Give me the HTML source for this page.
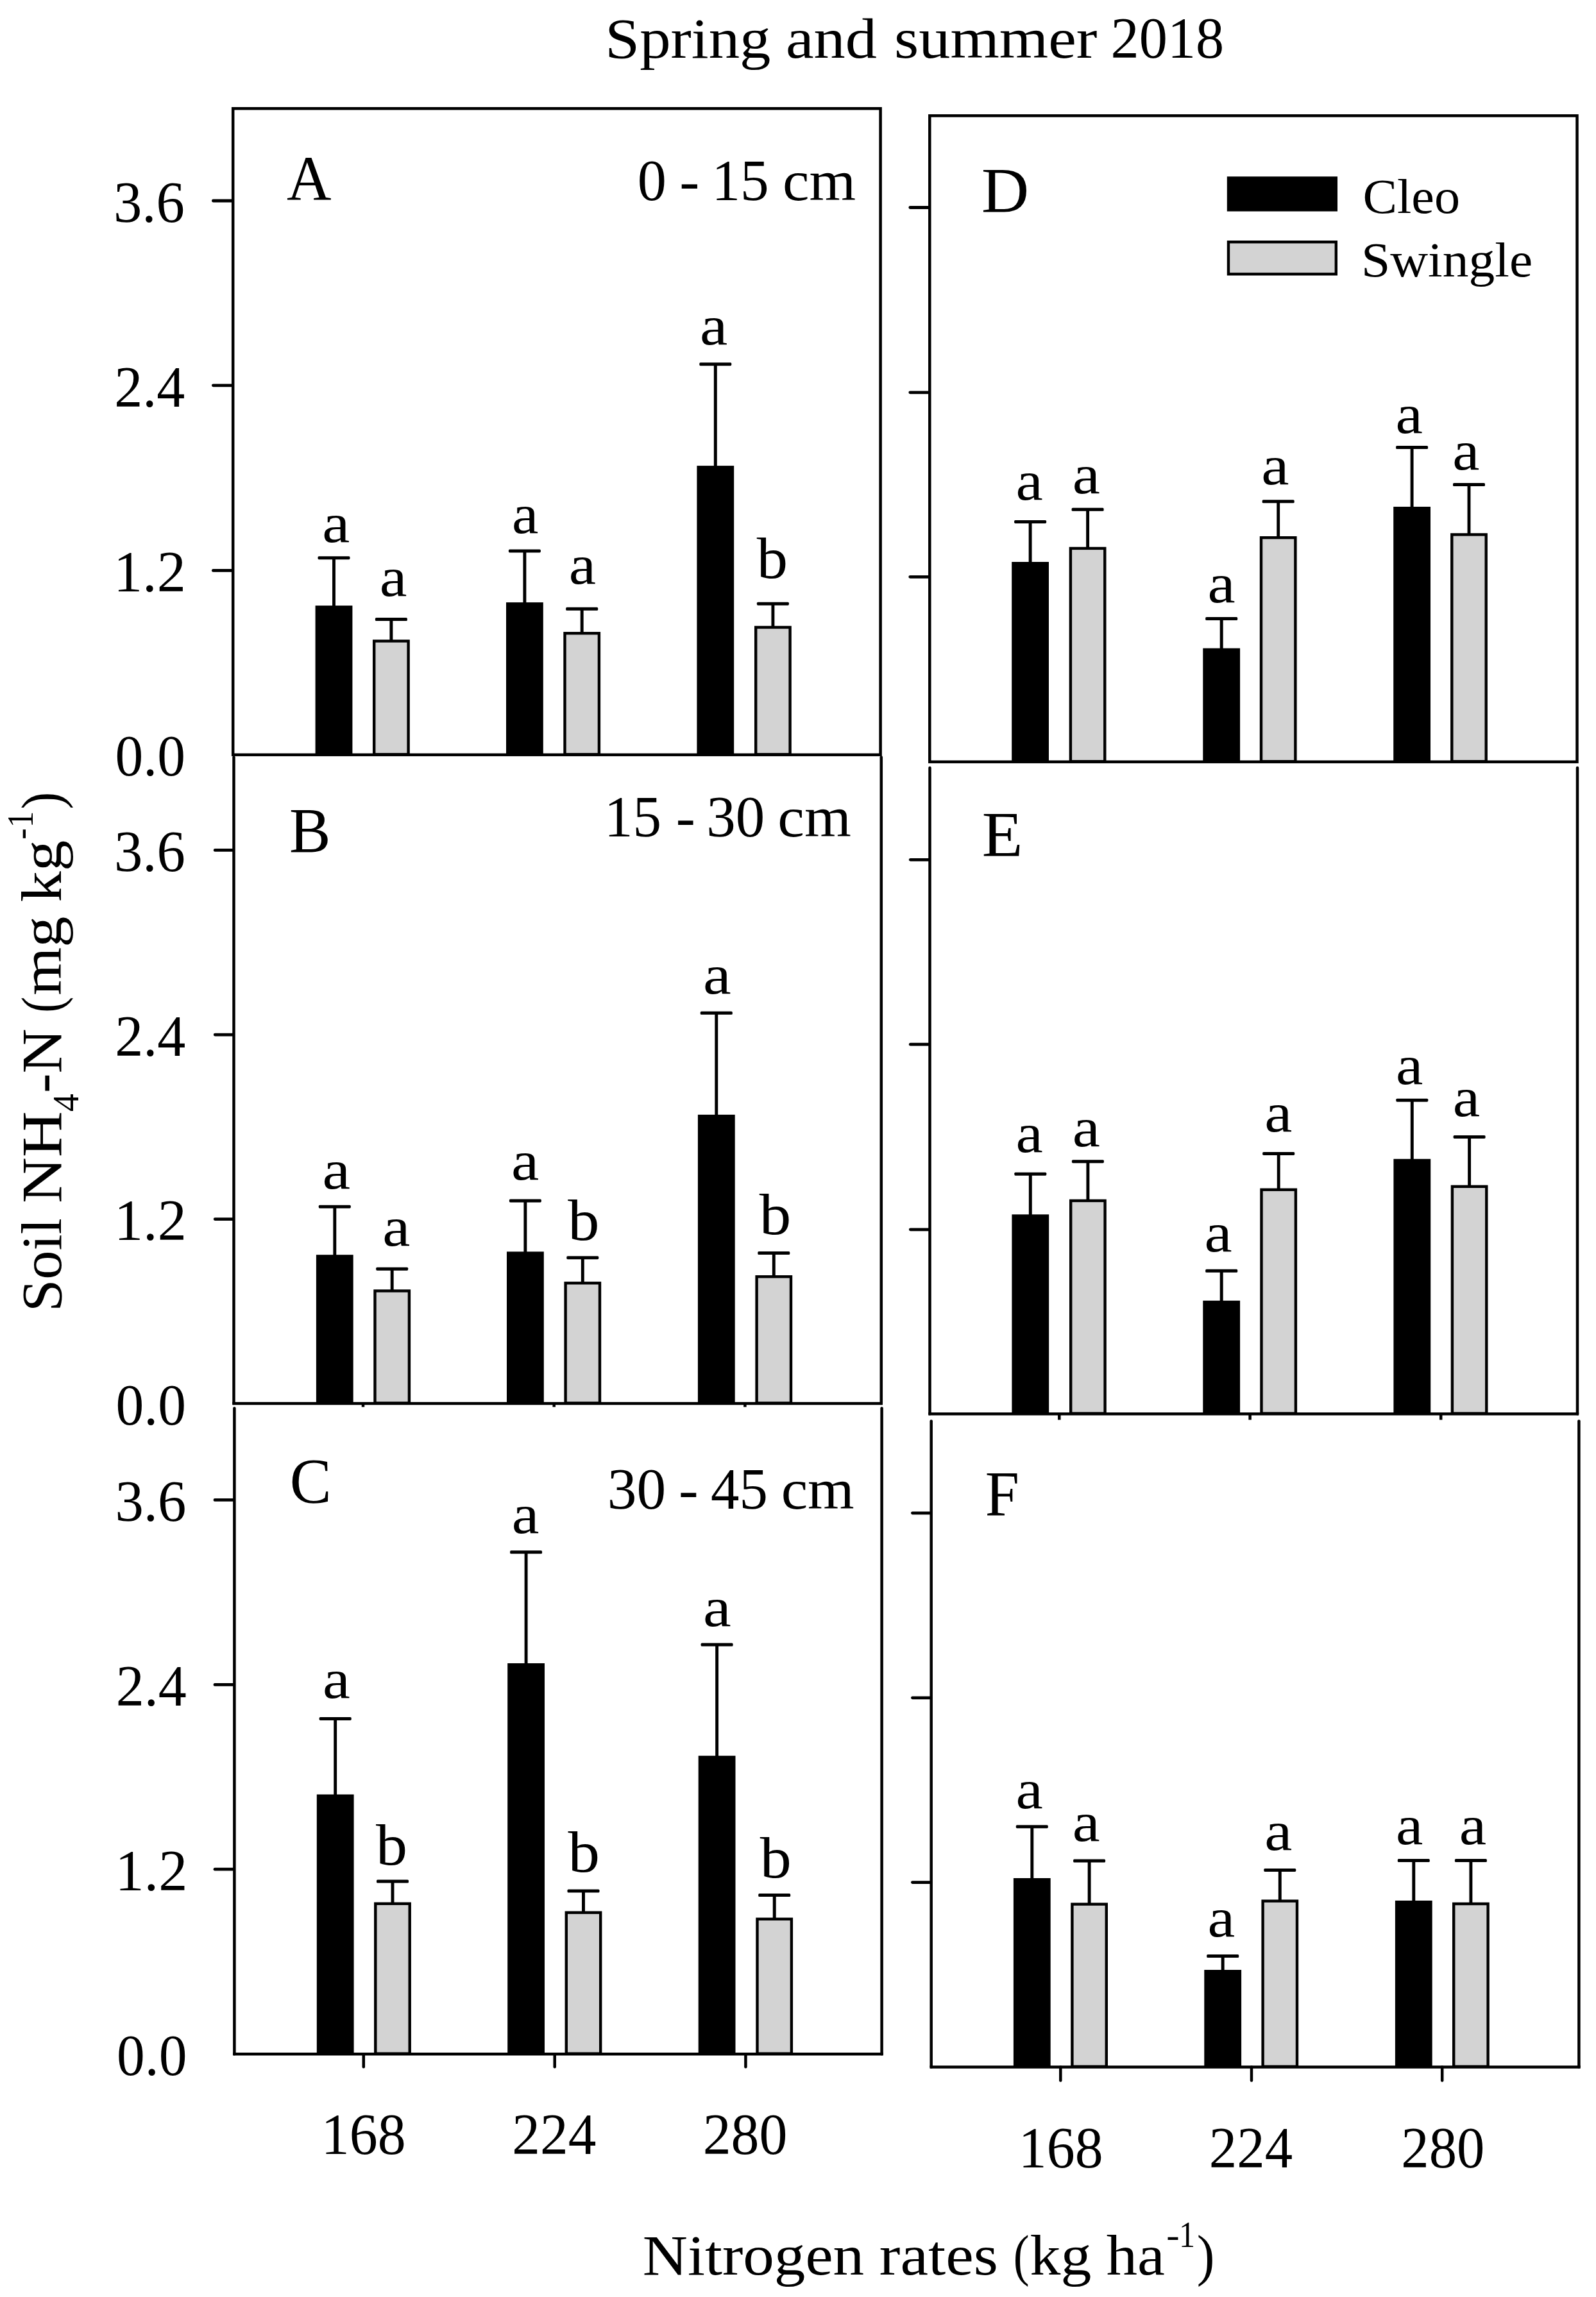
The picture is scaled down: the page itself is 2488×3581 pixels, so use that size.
<!DOCTYPE html>
<html lang="en"><head><meta charset="utf-8"><title>Spring and summer 2018 - Soil NH4-N</title>
<style>
html,body{margin:0;padding:0;background:#fff;}
svg{display:block;}
text{font-family:"Liberation Serif", serif;fill:#000;}
</style></head>
<body>
<svg width="2488" height="3581" viewBox="0 0 2488 3581">
<rect width="2488" height="3581" fill="#fff"/>
<g id="plot">
<g id="panel-A">
<line x1="520.5" y1="869.7" x2="520.5" y2="947.1" stroke="#000" stroke-width="4.9" stroke-linecap="butt"/>
<rect x="495.5" y="867.2" width="50" height="5" rx="1.6" fill="#000"/>
<rect x="491.6" y="944.1" width="57.8" height="232.6" fill="#000"/>
<line x1="609.9" y1="965.6" x2="609.9" y2="1000.2" stroke="#000" stroke-width="4.9" stroke-linecap="butt"/>
<rect x="584.9" y="963.1" width="50" height="5" rx="1.6" fill="#000"/>
<rect x="583.2" y="999.4" width="53.4" height="176.7" fill="#d3d3d3" stroke="#000" stroke-width="4.4"/>
<line x1="817.9" y1="858.9" x2="817.9" y2="942.1" stroke="#000" stroke-width="4.9" stroke-linecap="butt"/>
<rect x="792.9" y="856.4" width="50" height="5" rx="1.6" fill="#000"/>
<rect x="789.0" y="939.1" width="57.8" height="237.6" fill="#000"/>
<line x1="907.2" y1="949.3" x2="907.2" y2="988.1" stroke="#000" stroke-width="4.9" stroke-linecap="butt"/>
<rect x="882.2" y="946.8" width="50" height="5" rx="1.6" fill="#000"/>
<rect x="880.5" y="987.3" width="53.4" height="188.8" fill="#d3d3d3" stroke="#000" stroke-width="4.4"/>
<line x1="1115.3" y1="567.7" x2="1115.3" y2="729.1" stroke="#000" stroke-width="4.9" stroke-linecap="butt"/>
<rect x="1090.3" y="565.2" width="50" height="5" rx="1.6" fill="#000"/>
<rect x="1086.4" y="726.1" width="57.8" height="450.6" fill="#000"/>
<line x1="1204.9" y1="941.2" x2="1204.9" y2="978.8" stroke="#000" stroke-width="4.9" stroke-linecap="butt"/>
<rect x="1179.9" y="938.7" width="50" height="5" rx="1.6" fill="#000"/>
<rect x="1178.2" y="978.0" width="53.4" height="198.1" fill="#d3d3d3" stroke="#000" stroke-width="4.4"/>
<rect x="363.2" y="169.2" width="1009.4" height="1007.5" fill="none" stroke="#000" stroke-width="4.5"/>
<line x1="332.4" y1="313.0" x2="362.2" y2="313.0" stroke="#000" stroke-width="4.8" stroke-linecap="round"/>
<line x1="332.4" y1="600.8" x2="362.2" y2="600.8" stroke="#000" stroke-width="4.8" stroke-linecap="round"/>
<line x1="332.4" y1="889.4" x2="362.2" y2="889.4" stroke="#000" stroke-width="4.8" stroke-linecap="round"/>
</g>
<g id="panel-B">
<line x1="521.8" y1="1881.2" x2="521.8" y2="1959.2" stroke="#000" stroke-width="4.9" stroke-linecap="butt"/>
<rect x="496.8" y="1878.7" width="50" height="5" rx="1.6" fill="#000"/>
<rect x="492.9" y="1956.2" width="57.8" height="231.8" fill="#000"/>
<line x1="611.2" y1="1978.2" x2="611.2" y2="2013.3" stroke="#000" stroke-width="4.9" stroke-linecap="butt"/>
<rect x="586.2" y="1975.7" width="50" height="5" rx="1.6" fill="#000"/>
<rect x="584.5" y="2012.5" width="53.4" height="174.9" fill="#d3d3d3" stroke="#000" stroke-width="4.4"/>
<line x1="818.9" y1="1871.9" x2="818.9" y2="1954.3" stroke="#000" stroke-width="4.9" stroke-linecap="butt"/>
<rect x="793.9" y="1869.4" width="50" height="5" rx="1.6" fill="#000"/>
<rect x="790.0" y="1951.3" width="57.8" height="236.7" fill="#000"/>
<line x1="908.3" y1="1960.7" x2="908.3" y2="2001.1" stroke="#000" stroke-width="4.9" stroke-linecap="butt"/>
<rect x="883.3" y="1958.2" width="50" height="5" rx="1.6" fill="#000"/>
<rect x="881.6" y="2000.3" width="53.4" height="187.1" fill="#d3d3d3" stroke="#000" stroke-width="4.4"/>
<line x1="1116.8" y1="1579.3" x2="1116.8" y2="1740.8" stroke="#000" stroke-width="4.9" stroke-linecap="butt"/>
<rect x="1091.8" y="1576.8" width="50" height="5" rx="1.6" fill="#000"/>
<rect x="1087.9" y="1737.8" width="57.8" height="450.2" fill="#000"/>
<line x1="1206.3" y1="1953.5" x2="1206.3" y2="1991.1" stroke="#000" stroke-width="4.9" stroke-linecap="butt"/>
<rect x="1181.3" y="1951.0" width="50" height="5" rx="1.6" fill="#000"/>
<rect x="1179.6" y="1990.3" width="53.4" height="197.1" fill="#d3d3d3" stroke="#000" stroke-width="4.4"/>
<line x1="364.5" y1="1180.5" x2="364.5" y2="2188.0" stroke="#000" stroke-width="4.5" stroke-linecap="round"/>
<line x1="1373.8" y1="1180.5" x2="1373.8" y2="2188.0" stroke="#000" stroke-width="4.5" stroke-linecap="round"/>
<line x1="362.2" y1="2188.0" x2="1376.0" y2="2188.0" stroke="#000" stroke-width="4.5" stroke-linecap="butt"/>
<line x1="335.2" y1="1325.4" x2="363.5" y2="1325.4" stroke="#000" stroke-width="4.8" stroke-linecap="round"/>
<line x1="335.2" y1="1613.1" x2="363.5" y2="1613.1" stroke="#000" stroke-width="4.8" stroke-linecap="round"/>
<line x1="335.2" y1="1900.6" x2="363.5" y2="1900.6" stroke="#000" stroke-width="4.8" stroke-linecap="round"/>
</g>
<g id="panel-C">
<line x1="522.7" y1="2679.4" x2="522.7" y2="2800.5" stroke="#000" stroke-width="4.9" stroke-linecap="butt"/>
<rect x="497.7" y="2676.9" width="50" height="5" rx="1.6" fill="#000"/>
<rect x="493.8" y="2797.5" width="57.8" height="404.7" fill="#000"/>
<line x1="612.0" y1="2933.0" x2="612.0" y2="2968.6" stroke="#000" stroke-width="4.9" stroke-linecap="butt"/>
<rect x="587.0" y="2930.5" width="50" height="5" rx="1.6" fill="#000"/>
<rect x="585.3" y="2967.8" width="53.4" height="233.8" fill="#d3d3d3" stroke="#000" stroke-width="4.4"/>
<line x1="820.1" y1="2419.8" x2="820.1" y2="2596.0" stroke="#000" stroke-width="4.9" stroke-linecap="butt"/>
<rect x="795.1" y="2417.3" width="50" height="5" rx="1.6" fill="#000"/>
<rect x="791.2" y="2593.0" width="57.8" height="609.2" fill="#000"/>
<line x1="909.5" y1="2948.1" x2="909.5" y2="2982.5" stroke="#000" stroke-width="4.9" stroke-linecap="butt"/>
<rect x="884.5" y="2945.6" width="50" height="5" rx="1.6" fill="#000"/>
<rect x="882.8" y="2981.7" width="53.4" height="219.9" fill="#d3d3d3" stroke="#000" stroke-width="4.4"/>
<line x1="1117.6" y1="2564.1" x2="1117.6" y2="2740.2" stroke="#000" stroke-width="4.9" stroke-linecap="butt"/>
<rect x="1092.6" y="2561.6" width="50" height="5" rx="1.6" fill="#000"/>
<rect x="1088.7" y="2737.2" width="57.8" height="465.0" fill="#000"/>
<line x1="1207.2" y1="2954.6" x2="1207.2" y2="2992.6" stroke="#000" stroke-width="4.9" stroke-linecap="butt"/>
<rect x="1182.2" y="2952.1" width="50" height="5" rx="1.6" fill="#000"/>
<rect x="1180.5" y="2991.8" width="53.4" height="209.8" fill="#d3d3d3" stroke="#000" stroke-width="4.4"/>
<line x1="365.4" y1="2195.5" x2="365.4" y2="3202.2" stroke="#000" stroke-width="4.5" stroke-linecap="round"/>
<line x1="1374.6" y1="2195.5" x2="1374.6" y2="3202.2" stroke="#000" stroke-width="4.5" stroke-linecap="round"/>
<line x1="363.1" y1="3202.2" x2="1376.8" y2="3202.2" stroke="#000" stroke-width="4.5" stroke-linecap="butt"/>
<line x1="335.0" y1="2338.4" x2="364.4" y2="2338.4" stroke="#000" stroke-width="4.8" stroke-linecap="round"/>
<line x1="335.0" y1="2626.4" x2="364.4" y2="2626.4" stroke="#000" stroke-width="4.8" stroke-linecap="round"/>
<line x1="335.0" y1="2914.2" x2="364.4" y2="2914.2" stroke="#000" stroke-width="4.8" stroke-linecap="round"/>
</g>
<g id="panel-D">
<line x1="1606.1" y1="813.4" x2="1606.1" y2="879.0" stroke="#000" stroke-width="4.9" stroke-linecap="butt"/>
<rect x="1581.1" y="810.9" width="50" height="5" rx="1.6" fill="#000"/>
<rect x="1577.2" y="876.0" width="57.8" height="311.7" fill="#000"/>
<line x1="1695.6" y1="794.3" x2="1695.6" y2="855.7" stroke="#000" stroke-width="4.9" stroke-linecap="butt"/>
<rect x="1670.6" y="791.8" width="50" height="5" rx="1.6" fill="#000"/>
<rect x="1668.9" y="854.9" width="53.4" height="332.2" fill="#d3d3d3" stroke="#000" stroke-width="4.4"/>
<line x1="1904.2" y1="964.5" x2="1904.2" y2="1013.6" stroke="#000" stroke-width="4.9" stroke-linecap="butt"/>
<rect x="1879.2" y="962.0" width="50" height="5" rx="1.6" fill="#000"/>
<rect x="1875.3" y="1010.6" width="57.8" height="177.1" fill="#000"/>
<line x1="1992.7" y1="781.8" x2="1992.7" y2="839.0" stroke="#000" stroke-width="4.9" stroke-linecap="butt"/>
<rect x="1967.7" y="779.3" width="50" height="5" rx="1.6" fill="#000"/>
<rect x="1966.0" y="838.2" width="53.4" height="348.9" fill="#d3d3d3" stroke="#000" stroke-width="4.4"/>
<line x1="2201.1" y1="697.6" x2="2201.1" y2="793.0" stroke="#000" stroke-width="4.9" stroke-linecap="butt"/>
<rect x="2176.1" y="695.1" width="50" height="5" rx="1.6" fill="#000"/>
<rect x="2172.2" y="790.0" width="57.8" height="397.7" fill="#000"/>
<line x1="2290.0" y1="755.6" x2="2290.0" y2="834.2" stroke="#000" stroke-width="4.9" stroke-linecap="butt"/>
<rect x="2265.0" y="753.1" width="50" height="5" rx="1.6" fill="#000"/>
<rect x="2263.3" y="833.4" width="53.4" height="353.7" fill="#d3d3d3" stroke="#000" stroke-width="4.4"/>
<rect x="1449.3" y="180.4" width="1009.2" height="1007.3" fill="none" stroke="#000" stroke-width="4.5"/>
<line x1="1418.8" y1="323.5" x2="1448.3" y2="323.5" stroke="#000" stroke-width="4.8" stroke-linecap="round"/>
<line x1="1418.8" y1="611.8" x2="1448.3" y2="611.8" stroke="#000" stroke-width="4.8" stroke-linecap="round"/>
<line x1="1418.8" y1="899.3" x2="1448.3" y2="899.3" stroke="#000" stroke-width="4.8" stroke-linecap="round"/>
</g>
<g id="panel-E">
<line x1="1606.3" y1="1830.2" x2="1606.3" y2="1896.3" stroke="#000" stroke-width="4.9" stroke-linecap="butt"/>
<rect x="1581.3" y="1827.7" width="50" height="5" rx="1.6" fill="#000"/>
<rect x="1577.4" y="1893.3" width="57.8" height="310.9" fill="#000"/>
<line x1="1695.9" y1="1810.7" x2="1695.9" y2="1872.7" stroke="#000" stroke-width="4.9" stroke-linecap="butt"/>
<rect x="1670.9" y="1808.2" width="50" height="5" rx="1.6" fill="#000"/>
<rect x="1669.2" y="1871.9" width="53.4" height="331.7" fill="#d3d3d3" stroke="#000" stroke-width="4.4"/>
<line x1="1904.2" y1="1981.3" x2="1904.2" y2="2030.7" stroke="#000" stroke-width="4.9" stroke-linecap="butt"/>
<rect x="1879.2" y="1978.8" width="50" height="5" rx="1.6" fill="#000"/>
<rect x="1875.3" y="2027.7" width="57.8" height="176.5" fill="#000"/>
<line x1="1993.2" y1="1798.4" x2="1993.2" y2="1855.5" stroke="#000" stroke-width="4.9" stroke-linecap="butt"/>
<rect x="1968.2" y="1795.9" width="50" height="5" rx="1.6" fill="#000"/>
<rect x="1966.5" y="1854.7" width="53.4" height="348.9" fill="#d3d3d3" stroke="#000" stroke-width="4.4"/>
<line x1="2201.3" y1="1715.2" x2="2201.3" y2="1809.8" stroke="#000" stroke-width="4.9" stroke-linecap="butt"/>
<rect x="2176.3" y="1712.7" width="50" height="5" rx="1.6" fill="#000"/>
<rect x="2172.4" y="1806.8" width="57.8" height="397.4" fill="#000"/>
<line x1="2290.6" y1="1772.4" x2="2290.6" y2="1850.6" stroke="#000" stroke-width="4.9" stroke-linecap="butt"/>
<rect x="2265.6" y="1769.9" width="50" height="5" rx="1.6" fill="#000"/>
<rect x="2263.9" y="1849.8" width="53.4" height="353.8" fill="#d3d3d3" stroke="#000" stroke-width="4.4"/>
<line x1="1449.5" y1="1197.0" x2="1449.5" y2="2204.2" stroke="#000" stroke-width="4.5" stroke-linecap="round"/>
<line x1="2459.0" y1="1197.0" x2="2459.0" y2="2204.2" stroke="#000" stroke-width="4.5" stroke-linecap="round"/>
<line x1="1447.2" y1="2204.2" x2="2461.2" y2="2204.2" stroke="#000" stroke-width="4.5" stroke-linecap="butt"/>
<line x1="1419.3" y1="1340.3" x2="1448.5" y2="1340.3" stroke="#000" stroke-width="4.8" stroke-linecap="round"/>
<line x1="1419.3" y1="1628.2" x2="1448.5" y2="1628.2" stroke="#000" stroke-width="4.8" stroke-linecap="round"/>
<line x1="1419.3" y1="1916.8" x2="1448.5" y2="1916.8" stroke="#000" stroke-width="4.8" stroke-linecap="round"/>
</g>
<g id="panel-F">
<line x1="1608.8" y1="2847.7" x2="1608.8" y2="2931.0" stroke="#000" stroke-width="4.9" stroke-linecap="butt"/>
<rect x="1583.8" y="2845.2" width="50" height="5" rx="1.6" fill="#000"/>
<rect x="1579.9" y="2928.0" width="57.8" height="294.4" fill="#000"/>
<line x1="1698.1" y1="2901.0" x2="1698.1" y2="2969.4" stroke="#000" stroke-width="4.9" stroke-linecap="butt"/>
<rect x="1673.1" y="2898.5" width="50" height="5" rx="1.6" fill="#000"/>
<rect x="1671.4" y="2968.6" width="53.4" height="253.2" fill="#d3d3d3" stroke="#000" stroke-width="4.4"/>
<line x1="1906.2" y1="3049.5" x2="1906.2" y2="3074.0" stroke="#000" stroke-width="4.9" stroke-linecap="butt"/>
<rect x="1881.2" y="3047.0" width="50" height="5" rx="1.6" fill="#000"/>
<rect x="1877.3" y="3071.0" width="57.8" height="151.4" fill="#000"/>
<line x1="1995.3" y1="2915.4" x2="1995.3" y2="2964.5" stroke="#000" stroke-width="4.9" stroke-linecap="butt"/>
<rect x="1970.3" y="2912.9" width="50" height="5" rx="1.6" fill="#000"/>
<rect x="1968.6" y="2963.7" width="53.4" height="258.1" fill="#d3d3d3" stroke="#000" stroke-width="4.4"/>
<line x1="2203.8" y1="2900.6" x2="2203.8" y2="2966.0" stroke="#000" stroke-width="4.9" stroke-linecap="butt"/>
<rect x="2178.8" y="2898.1" width="50" height="5" rx="1.6" fill="#000"/>
<rect x="2174.9" y="2963.0" width="57.8" height="259.4" fill="#000"/>
<line x1="2292.9" y1="2900.6" x2="2292.9" y2="2968.8" stroke="#000" stroke-width="4.9" stroke-linecap="butt"/>
<rect x="2267.9" y="2898.1" width="50" height="5" rx="1.6" fill="#000"/>
<rect x="2266.2" y="2968.0" width="53.4" height="253.8" fill="#d3d3d3" stroke="#000" stroke-width="4.4"/>
<line x1="1451.7" y1="2215.5" x2="1451.7" y2="3222.4" stroke="#000" stroke-width="4.5" stroke-linecap="round"/>
<line x1="2461.4" y1="2215.5" x2="2461.4" y2="3222.4" stroke="#000" stroke-width="4.5" stroke-linecap="round"/>
<line x1="1449.5" y1="3222.4" x2="2463.7" y2="3222.4" stroke="#000" stroke-width="4.5" stroke-linecap="butt"/>
<line x1="1422.4" y1="2358.8" x2="1450.7" y2="2358.8" stroke="#000" stroke-width="4.8" stroke-linecap="round"/>
<line x1="1422.4" y1="2646.8" x2="1450.7" y2="2646.8" stroke="#000" stroke-width="4.8" stroke-linecap="round"/>
<line x1="1422.4" y1="2934.6" x2="1450.7" y2="2934.6" stroke="#000" stroke-width="4.8" stroke-linecap="round"/>
</g>
<g id="x-ticks">
<line x1="566.8" y1="3202.2" x2="566.8" y2="3222.2" stroke="#000" stroke-width="4.5" stroke-linecap="round"/>
<line x1="864.7" y1="3202.2" x2="864.7" y2="3222.2" stroke="#000" stroke-width="4.5" stroke-linecap="round"/>
<line x1="1162.4" y1="3202.2" x2="1162.4" y2="3222.2" stroke="#000" stroke-width="4.5" stroke-linecap="round"/>
<line x1="1653.3" y1="3222.4" x2="1653.3" y2="3243.6" stroke="#000" stroke-width="4.5" stroke-linecap="round"/>
<line x1="1951.0" y1="3222.4" x2="1951.0" y2="3243.6" stroke="#000" stroke-width="4.5" stroke-linecap="round"/>
<line x1="2248.2" y1="3222.4" x2="2248.2" y2="3243.6" stroke="#000" stroke-width="4.5" stroke-linecap="round"/>
<line x1="566.0" y1="2188.0" x2="566.0" y2="2193.5" stroke="#000" stroke-width="4.5" stroke-linecap="butt"/>
<line x1="863.7" y1="2188.0" x2="863.7" y2="2193.5" stroke="#000" stroke-width="4.5" stroke-linecap="butt"/>
<line x1="1161.4" y1="2188.0" x2="1161.4" y2="2193.5" stroke="#000" stroke-width="4.5" stroke-linecap="butt"/>
<line x1="1651.3" y1="2204.0" x2="1651.3" y2="2213.5" stroke="#000" stroke-width="4.5" stroke-linecap="butt"/>
<line x1="1948.6" y1="2204.0" x2="1948.6" y2="2213.5" stroke="#000" stroke-width="4.5" stroke-linecap="butt"/>
<line x1="2246.2" y1="2204.0" x2="2246.2" y2="2213.5" stroke="#000" stroke-width="4.5" stroke-linecap="butt"/>
</g>
<g id="legend-swatches">
<rect x="1912.8" y="275.2" width="172.2" height="54.3" fill="#000"/>
<rect x="1915.0" y="377.2" width="167.8" height="50.1" fill="#d3d3d3" stroke="#000" stroke-width="4.4"/>
</g>
</g>
<g id="labels">
<text font-size="89"><tspan x="943.35" y="90.20" textLength="258.16" lengthAdjust="spacingAndGlyphs">Spring</tspan> <tspan x="1224.92" y="90.20" textLength="142.08" lengthAdjust="spacingAndGlyphs">and</tspan> <tspan x="1394.13" y="90.20" textLength="316.45" lengthAdjust="spacingAndGlyphs">summer</tspan> <tspan x="1731.54" y="90.20" font-size="90" textLength="176.72" lengthAdjust="spacingAndGlyphs">2018</tspan></text>
<text font-size="91"><tspan x="177.04" y="345.80" textLength="110.84" lengthAdjust="spacingAndGlyphs">3.6</tspan></text>
<text font-size="91"><tspan x="178.25" y="633.60" textLength="110.13" lengthAdjust="spacingAndGlyphs">2.4</tspan></text>
<text font-size="91"><tspan x="176.94" y="922.20" textLength="112.89" lengthAdjust="spacingAndGlyphs">1.2</tspan></text>
<text font-size="91"><tspan x="179.46" y="1209.20" textLength="109.47" lengthAdjust="spacingAndGlyphs">0.0</tspan></text>
<text font-size="91"><tspan x="178.04" y="1358.20" textLength="110.84" lengthAdjust="spacingAndGlyphs">3.6</tspan></text>
<text font-size="91"><tspan x="179.25" y="1645.90" textLength="110.13" lengthAdjust="spacingAndGlyphs">2.4</tspan></text>
<text font-size="91"><tspan x="177.94" y="1933.40" textLength="112.89" lengthAdjust="spacingAndGlyphs">1.2</tspan></text>
<text font-size="91"><tspan x="180.46" y="2220.80" textLength="109.47" lengthAdjust="spacingAndGlyphs">0.0</tspan></text>
<text font-size="91"><tspan x="179.54" y="2371.20" textLength="110.84" lengthAdjust="spacingAndGlyphs">3.6</tspan></text>
<text font-size="91"><tspan x="180.75" y="2659.20" textLength="110.13" lengthAdjust="spacingAndGlyphs">2.4</tspan></text>
<text font-size="91"><tspan x="179.44" y="2947.00" textLength="112.89" lengthAdjust="spacingAndGlyphs">1.2</tspan></text>
<text font-size="91"><tspan x="181.96" y="3235.00" textLength="109.47" lengthAdjust="spacingAndGlyphs">0.0</tspan></text>
<text font-size="91"><tspan x="500.83" y="3358.20" textLength="131.81" lengthAdjust="spacingAndGlyphs">168</tspan></text>
<text font-size="91"><tspan x="798.27" y="3358.20" textLength="131.10" lengthAdjust="spacingAndGlyphs">224</tspan></text>
<text font-size="91"><tspan x="1095.65" y="3358.20" textLength="131.79" lengthAdjust="spacingAndGlyphs">280</tspan></text>
<text font-size="91"><tspan x="1587.84" y="3379.00" textLength="131.70" lengthAdjust="spacingAndGlyphs">168</tspan></text>
<text font-size="91"><tspan x="1884.79" y="3379.00" textLength="130.27" lengthAdjust="spacingAndGlyphs">224</tspan></text>
<text font-size="91"><tspan x="2184.29" y="3379.00" textLength="130.12" lengthAdjust="spacingAndGlyphs">280</tspan></text>
<text font-size="91"><tspan x="993.68" y="312.20" textLength="45.14" lengthAdjust="spacingAndGlyphs">0</tspan> <tspan x="1059.28" y="312.20" font-size="89" textLength="31.09" lengthAdjust="spacingAndGlyphs">-</tspan> <tspan x="1109.43" y="312.20" textLength="89.26" lengthAdjust="spacingAndGlyphs">15</tspan> <tspan x="1219.98" y="312.20" font-size="89" textLength="114.06" lengthAdjust="spacingAndGlyphs">cm</tspan></text>
<text font-size="91"><tspan x="942.04" y="1303.50" textLength="89.15" lengthAdjust="spacingAndGlyphs">15</tspan> <tspan x="1053.68" y="1303.50" font-size="89" textLength="30.09" lengthAdjust="spacingAndGlyphs">-</tspan> <tspan x="1101.13" y="1303.50" textLength="91.01" lengthAdjust="spacingAndGlyphs">30</tspan> <tspan x="1212.37" y="1303.50" font-size="89" textLength="114.47" lengthAdjust="spacingAndGlyphs">cm</tspan></text>
<text font-size="91"><tspan x="946.71" y="2351.90" textLength="91.44" lengthAdjust="spacingAndGlyphs">30</tspan> <tspan x="1058.13" y="2351.90" font-size="89" textLength="30.59" lengthAdjust="spacingAndGlyphs">-</tspan> <tspan x="1108.01" y="2351.90" textLength="88.87" lengthAdjust="spacingAndGlyphs">45</tspan> <tspan x="1217.68" y="2351.90" font-size="89" textLength="114.06" lengthAdjust="spacingAndGlyphs">cm</tspan></text>
<text font-size="99"><tspan x="447.00" y="311.90" textLength="69.53" lengthAdjust="spacingAndGlyphs">A</tspan></text>
<text font-size="99"><tspan x="451.09" y="1328.00" textLength="64.47" lengthAdjust="spacingAndGlyphs">B</tspan></text>
<text font-size="99"><tspan x="451.76" y="2342.20" textLength="64.93" lengthAdjust="spacingAndGlyphs">C</tspan></text>
<text font-size="99"><tspan x="1529.90" y="330.00" textLength="74.06" lengthAdjust="spacingAndGlyphs">D</tspan></text>
<text font-size="99"><tspan x="1530.77" y="1333.50" textLength="63.67" lengthAdjust="spacingAndGlyphs">E</tspan></text>
<text font-size="99"><tspan x="1535.71" y="2361.70" textLength="53.17" lengthAdjust="spacingAndGlyphs">F</tspan></text>
<text font-size="77"><tspan x="2124.49" y="331.50" textLength="151.51" lengthAdjust="spacingAndGlyphs">Cleo</tspan></text>
<text font-size="77"><tspan x="2121.91" y="431.30" textLength="267.19" lengthAdjust="spacingAndGlyphs">Swingle</tspan></text>
<text font-size="87"><tspan x="502.27" y="844.70" textLength="43.05" lengthAdjust="spacingAndGlyphs">a</tspan></text>
<text font-size="87"><tspan x="591.69" y="929.40" textLength="42.72" lengthAdjust="spacingAndGlyphs">a</tspan></text>
<text font-size="87"><tspan x="797.98" y="830.80" textLength="41.41" lengthAdjust="spacingAndGlyphs">a</tspan></text>
<text font-size="87"><tspan x="886.72" y="910.20" textLength="42.28" lengthAdjust="spacingAndGlyphs">a</tspan></text>
<text font-size="87"><tspan x="1090.95" y="536.70" textLength="43.26" lengthAdjust="spacingAndGlyphs">a</tspan></text>
<text font-size="91"><tspan x="1179.70" y="901.30" textLength="48.32" lengthAdjust="spacingAndGlyphs">b</tspan></text>
<text font-size="87"><tspan x="502.63" y="1852.60" textLength="43.59" lengthAdjust="spacingAndGlyphs">a</tspan></text>
<text font-size="87"><tspan x="596.26" y="1942.30" textLength="43.16" lengthAdjust="spacingAndGlyphs">a</tspan></text>
<text font-size="87"><tspan x="796.95" y="1839.20" textLength="43.26" lengthAdjust="spacingAndGlyphs">a</tspan></text>
<text font-size="91"><tspan x="885.20" y="1933.00" textLength="49.17" lengthAdjust="spacingAndGlyphs">b</tspan></text>
<text font-size="87"><tspan x="1096.12" y="1549.10" textLength="43.70" lengthAdjust="spacingAndGlyphs">a</tspan></text>
<text font-size="91"><tspan x="1183.80" y="1923.70" textLength="49.60" lengthAdjust="spacingAndGlyphs">b</tspan></text>
<text font-size="87"><tspan x="502.98" y="2647.20" textLength="42.83" lengthAdjust="spacingAndGlyphs">a</tspan></text>
<text font-size="91"><tspan x="585.90" y="2907.00" textLength="49.07" lengthAdjust="spacingAndGlyphs">b</tspan></text>
<text font-size="87"><tspan x="797.89" y="2389.70" textLength="42.72" lengthAdjust="spacingAndGlyphs">a</tspan></text>
<text font-size="91"><tspan x="885.60" y="2917.60" textLength="49.49" lengthAdjust="spacingAndGlyphs">b</tspan></text>
<text font-size="87"><tspan x="1096.12" y="2534.80" textLength="43.70" lengthAdjust="spacingAndGlyphs">a</tspan></text>
<text font-size="91"><tspan x="1184.80" y="2926.70" textLength="49.07" lengthAdjust="spacingAndGlyphs">b</tspan></text>
<text font-size="87"><tspan x="1583.52" y="779.20" textLength="42.28" lengthAdjust="spacingAndGlyphs">a</tspan></text>
<text font-size="87"><tspan x="1671.86" y="769.00" textLength="43.16" lengthAdjust="spacingAndGlyphs">a</tspan></text>
<text font-size="87"><tspan x="1882.46" y="938.50" textLength="43.16" lengthAdjust="spacingAndGlyphs">a</tspan></text>
<text font-size="87"><tspan x="1966.35" y="754.60" textLength="43.26" lengthAdjust="spacingAndGlyphs">a</tspan></text>
<text font-size="87"><tspan x="2175.62" y="674.90" textLength="42.39" lengthAdjust="spacingAndGlyphs">a</tspan></text>
<text font-size="87"><tspan x="2264.33" y="731.60" textLength="42.17" lengthAdjust="spacingAndGlyphs">a</tspan></text>
<text font-size="87"><tspan x="1583.52" y="1796.40" textLength="42.28" lengthAdjust="spacingAndGlyphs">a</tspan></text>
<text font-size="87"><tspan x="1671.86" y="1786.60" textLength="43.16" lengthAdjust="spacingAndGlyphs">a</tspan></text>
<text font-size="87"><tspan x="1877.56" y="1951.20" textLength="43.16" lengthAdjust="spacingAndGlyphs">a</tspan></text>
<text font-size="87"><tspan x="1971.16" y="1764.00" textLength="43.16" lengthAdjust="spacingAndGlyphs">a</tspan></text>
<text font-size="87"><tspan x="2176.02" y="1689.70" textLength="42.39" lengthAdjust="spacingAndGlyphs">a</tspan></text>
<text font-size="87"><tspan x="2264.72" y="1740.00" textLength="42.39" lengthAdjust="spacingAndGlyphs">a</tspan></text>
<text font-size="87"><tspan x="1583.52" y="2819.00" textLength="42.28" lengthAdjust="spacingAndGlyphs">a</tspan></text>
<text font-size="87"><tspan x="1671.88" y="2869.50" textLength="42.94" lengthAdjust="spacingAndGlyphs">a</tspan></text>
<text font-size="87"><tspan x="1882.49" y="3019.40" textLength="42.72" lengthAdjust="spacingAndGlyphs">a</tspan></text>
<text font-size="87"><tspan x="1971.16" y="2883.60" textLength="43.16" lengthAdjust="spacingAndGlyphs">a</tspan></text>
<text font-size="87"><tspan x="2176.02" y="2875.00" textLength="42.39" lengthAdjust="spacingAndGlyphs">a</tspan></text>
<text font-size="87"><tspan x="2274.72" y="2875.00" textLength="42.39" lengthAdjust="spacingAndGlyphs">a</tspan></text>
<text font-size="89"><tspan x="1001.78" y="3545.70" textLength="345.32" lengthAdjust="spacingAndGlyphs">Nitrogen</tspan> <tspan x="1370.87" y="3545.70" textLength="185.05" lengthAdjust="spacingAndGlyphs">rates</tspan> <tspan x="1579.77" y="3545.70" textLength="24.86" lengthAdjust="spacingAndGlyphs">(</tspan><tspan x="1605.60" y="3545.70" textLength="95.79" lengthAdjust="spacingAndGlyphs">kg</tspan> <tspan x="1724.70" y="3545.70" textLength="91.11" lengthAdjust="spacingAndGlyphs">ha</tspan><tspan x="1818.28" y="3502.50" font-size="57" textLength="20.43" lengthAdjust="spacingAndGlyphs">-</tspan><tspan x="1838.08" y="3502.50" font-size="57" textLength="25.07" lengthAdjust="spacingAndGlyphs">1</tspan><tspan x="1865.70" y="3545.70" textLength="27.71" lengthAdjust="spacingAndGlyphs">)</tspan></text>
<text transform="rotate(-90)" font-size="89"><tspan x="-2044.96" y="95.00" textLength="145.86" lengthAdjust="spacingAndGlyphs">Soil</tspan> <tspan x="-1875.65" y="95.00" textLength="143.24" lengthAdjust="spacingAndGlyphs">NH</tspan><tspan x="-1732.97" y="122.00" font-size="56" textLength="27.95" lengthAdjust="spacingAndGlyphs">4</tspan><tspan x="-1704.07" y="95.00" textLength="30.59" lengthAdjust="spacingAndGlyphs">-</tspan><tspan x="-1673.51" y="95.00" textLength="69.96" lengthAdjust="spacingAndGlyphs">N</tspan> <tspan x="-1578.63" y="95.00" textLength="24.86" lengthAdjust="spacingAndGlyphs">(</tspan><tspan x="-1551.71" y="95.00" textLength="123.21" lengthAdjust="spacingAndGlyphs">mg</tspan> <tspan x="-1406.20" y="95.00" textLength="96.21" lengthAdjust="spacingAndGlyphs">kg</tspan><tspan x="-1308.74" y="51.40" font-size="57" textLength="17.43" lengthAdjust="spacingAndGlyphs">-</tspan><tspan x="-1290.18" y="51.40" font-size="57" textLength="25.47" lengthAdjust="spacingAndGlyphs">1</tspan><tspan x="-1261.75" y="95.00" textLength="27.20" lengthAdjust="spacingAndGlyphs">)</tspan></text>
</g>
</svg>
</body></html>
